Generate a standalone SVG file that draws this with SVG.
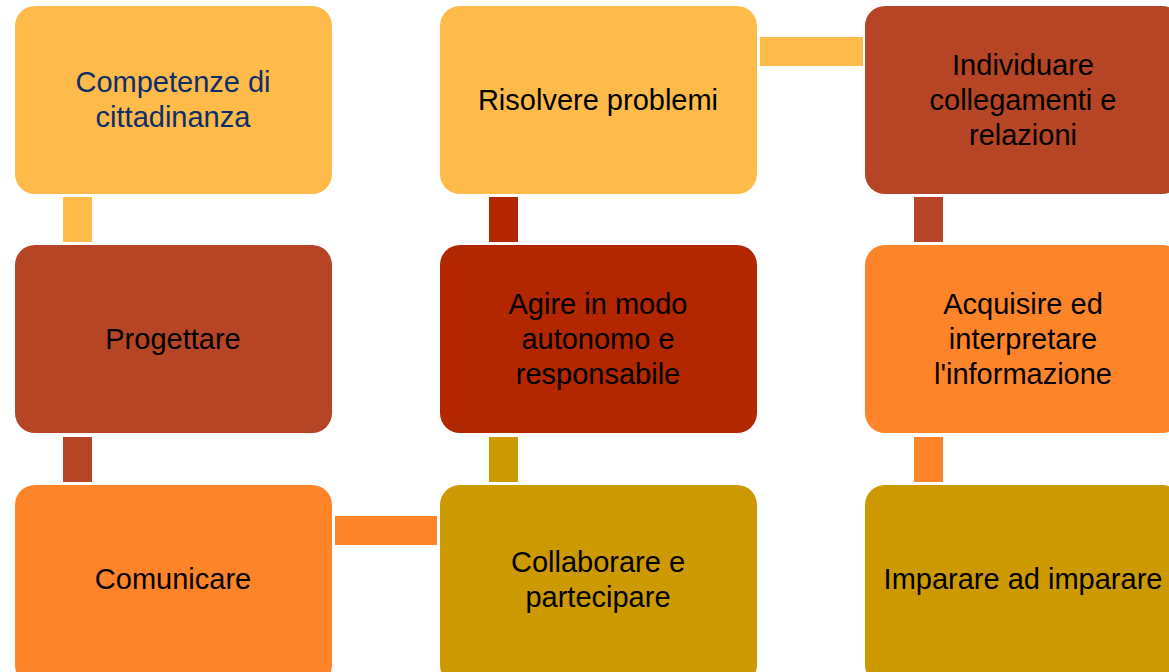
<svg xmlns="http://www.w3.org/2000/svg" width="1169" height="672" viewBox="0 0 1169 672">
<style>
.box{stroke:none}
.lo{fill:#FEBB4A}
.br{fill:#B54524}
.dr{fill:#B22600}
.or{fill:#FE8429}
.go{fill:#CC9900}
text{font-family:"Liberation Sans",Arial,sans-serif;font-size:29px;text-anchor:middle;fill:#000}
text.navy{fill:#0E2D6B}
</style>
<rect width="1169" height="672" fill="#fff"/>
<g id="connectors">
<rect class="lo" x="63" y="197" width="29" height="45"/>
<rect class="br" x="63" y="437" width="29" height="45"/>
<rect class="or" x="335" y="516" width="102" height="29"/>
<rect class="go" x="489" y="437" width="29" height="45"/>
<rect class="dr" x="489" y="197" width="29" height="45"/>
<rect class="lo" x="760" y="37" width="103" height="29"/>
<rect class="br" x="914" y="197" width="29" height="45"/>
<rect class="or" x="914" y="437" width="29" height="45"/>
</g>
<g id="n1"><rect class="box lo" x="15" y="6" width="317" height="188" rx="20"/>
<text class="navy" x="173" y="92">Competenze di</text><text class="navy" x="173" y="127">cittadinanza</text></g>
<g id="n2"><rect class="box br" x="15" y="245" width="317" height="188" rx="20"/>
<text x="173" y="349">Progettare</text></g>
<g id="n3"><rect class="box or" x="15" y="485" width="317" height="200" rx="20"/>
<text x="173" y="589">Comunicare</text></g>
<g id="n4"><rect class="box go" x="440" y="485" width="317" height="200" rx="20"/>
<text x="598" y="572">Collaborare e</text><text x="598" y="607">partecipare</text></g>
<g id="n5"><rect class="box dr" x="440" y="245" width="317" height="188" rx="20"/>
<text x="598" y="314">Agire in modo</text><text x="598" y="349">autonomo e</text><text x="598" y="384">responsabile</text></g>
<g id="n6"><rect class="box lo" x="440" y="6" width="317" height="188" rx="20"/>
<text x="598" y="110">Risolvere problemi</text></g>
<g id="n7"><rect class="box br" x="865" y="6" width="317" height="188" rx="20"/>
<text x="1023" y="75">Individuare</text><text x="1023" y="110">collegamenti e</text><text x="1023" y="145">relazioni</text></g>
<g id="n8"><rect class="box or" x="865" y="245" width="317" height="188" rx="20"/>
<text x="1023" y="314">Acquisire ed</text><text x="1023" y="349">interpretare</text><text x="1023" y="384">l'informazione</text></g>
<g id="n9"><rect class="box go" x="865" y="485" width="317" height="200" rx="20"/>
<text x="1023" y="589">Imparare ad imparare</text></g>
</svg>
